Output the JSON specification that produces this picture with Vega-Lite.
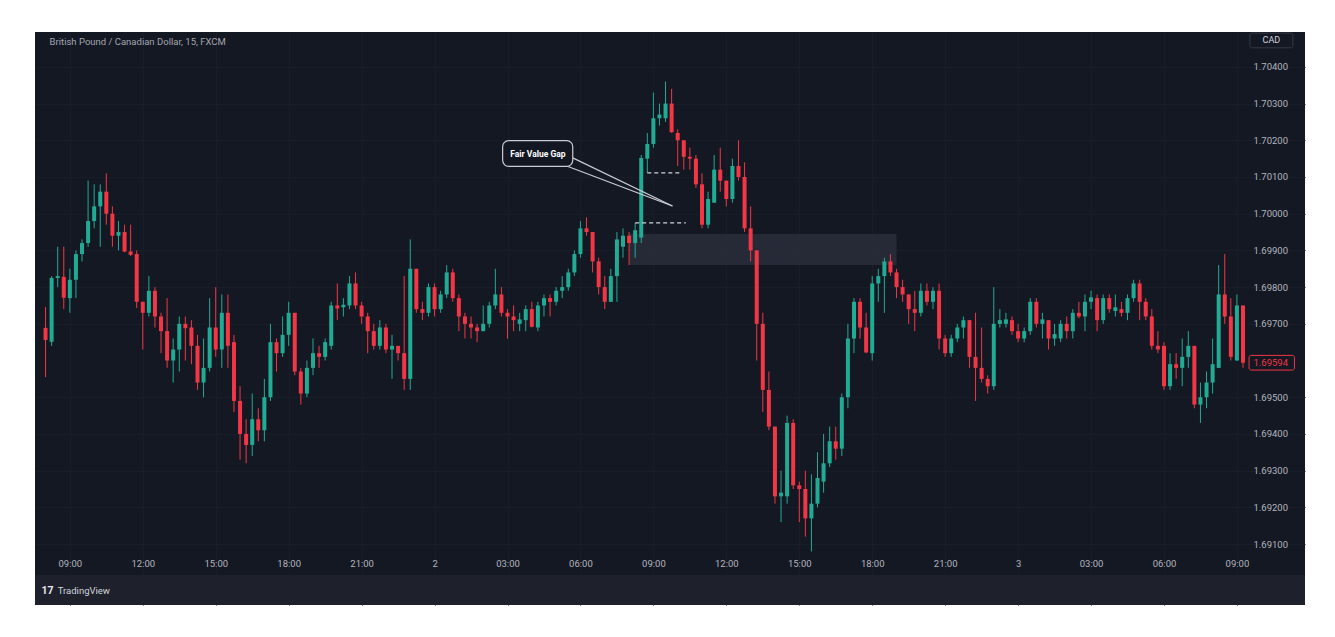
{
  "$schema": "https://vega.github.io/schema/vega-lite/v6.json",
  "width": 1270,
  "height": 573,
  "autosize": {"type": "none"},
  "padding": {"left": 35, "top": 32, "right": 30, "bottom": 32},
  "background": "#ffffff",
  "config": {"view": {"fill": "#141823", "stroke": null}, "font": "Roboto"},
  "datasets": {
    "candles": [
      {"t":"2023-03-01T08:00:00Z","open":1.69689,"high":1.69746,"low":1.69555,"close":1.69656},
      {"t":"2023-03-01T08:15:00Z","open":1.69651,"high":1.69830,"low":1.69640,"close":1.69825},
      {"t":"2023-03-01T08:30:00Z","open":1.69825,"high":1.69910,"low":1.69800,"close":1.69830},
      {"t":"2023-03-01T08:45:00Z","open":1.69828,"high":1.69910,"low":1.69740,"close":1.69771},
      {"t":"2023-03-01T09:00:00Z","open":1.69770,"high":1.69850,"low":1.69730,"close":1.69820},
      {"t":"2023-03-01T09:15:00Z","open":1.69820,"high":1.69900,"low":1.69770,"close":1.69890},
      {"t":"2023-03-01T09:30:00Z","open":1.69890,"high":1.69930,"low":1.69870,"close":1.69920},
      {"t":"2023-03-01T09:45:00Z","open":1.69920,"high":1.70090,"low":1.69910,"close":1.69980},
      {"t":"2023-03-01T10:00:00Z","open":1.69980,"high":1.70080,"low":1.69960,"close":1.70020},
      {"t":"2023-03-01T10:15:00Z","open":1.70020,"high":1.70080,"low":1.69910,"close":1.70060},
      {"t":"2023-03-01T10:30:00Z","open":1.70060,"high":1.70110,"low":1.69970,"close":1.70000},
      {"t":"2023-03-01T10:45:00Z","open":1.70000,"high":1.70020,"low":1.69910,"close":1.69940},
      {"t":"2023-03-01T11:00:00Z","open":1.69940,"high":1.69980,"low":1.69900,"close":1.69950},
      {"t":"2023-03-01T11:15:00Z","open":1.69950,"high":1.69970,"low":1.69895,"close":1.69897},
      {"t":"2023-03-01T11:30:00Z","open":1.69897,"high":1.69970,"low":1.69885,"close":1.69888},
      {"t":"2023-03-01T11:45:00Z","open":1.69890,"high":1.69900,"low":1.69743,"close":1.69760},
      {"t":"2023-03-01T12:00:00Z","open":1.69760,"high":1.69760,"low":1.69630,"close":1.69730},
      {"t":"2023-03-01T12:15:00Z","open":1.69730,"high":1.69830,"low":1.69720,"close":1.69790},
      {"t":"2023-03-01T12:30:00Z","open":1.69790,"high":1.69800,"low":1.69690,"close":1.69720},
      {"t":"2023-03-01T12:45:00Z","open":1.69720,"high":1.69730,"low":1.69620,"close":1.69680},
      {"t":"2023-03-01T13:00:00Z","open":1.69680,"high":1.69770,"low":1.69580,"close":1.69600},
      {"t":"2023-03-01T13:15:00Z","open":1.69600,"high":1.69660,"low":1.69540,"close":1.69630},
      {"t":"2023-03-01T13:30:00Z","open":1.69630,"high":1.69720,"low":1.69570,"close":1.69700},
      {"t":"2023-03-01T13:45:00Z","open":1.69700,"high":1.69720,"low":1.69600,"close":1.69688},
      {"t":"2023-03-01T14:00:00Z","open":1.69690,"high":1.69710,"low":1.69590,"close":1.69640},
      {"t":"2023-03-01T14:15:00Z","open":1.69640,"high":1.69670,"low":1.69520,"close":1.69540},
      {"t":"2023-03-01T14:30:00Z","open":1.69540,"high":1.69660,"low":1.69500,"close":1.69580},
      {"t":"2023-03-01T14:45:00Z","open":1.69580,"high":1.69770,"low":1.69570,"close":1.69690},
      {"t":"2023-03-01T15:00:00Z","open":1.69690,"high":1.69800,"low":1.69610,"close":1.69630},
      {"t":"2023-03-01T15:15:00Z","open":1.69630,"high":1.69780,"low":1.69580,"close":1.69730},
      {"t":"2023-03-01T15:30:00Z","open":1.69730,"high":1.69780,"low":1.69580,"close":1.69640},
      {"t":"2023-03-01T15:45:00Z","open":1.69650,"high":1.69670,"low":1.69460,"close":1.69490},
      {"t":"2023-03-01T16:00:00Z","open":1.69490,"high":1.69530,"low":1.69330,"close":1.69400},
      {"t":"2023-03-01T16:15:00Z","open":1.69400,"high":1.69440,"low":1.69320,"close":1.69370},
      {"t":"2023-03-01T16:30:00Z","open":1.69370,"high":1.69510,"low":1.69340,"close":1.69440},
      {"t":"2023-03-01T16:45:00Z","open":1.69440,"high":1.69470,"low":1.69380,"close":1.69410},
      {"t":"2023-03-01T17:00:00Z","open":1.69410,"high":1.69550,"low":1.69380,"close":1.69500},
      {"t":"2023-03-01T17:15:00Z","open":1.69500,"high":1.69700,"low":1.69490,"close":1.69650},
      {"t":"2023-03-01T17:30:00Z","open":1.69650,"high":1.69660,"low":1.69570,"close":1.69620},
      {"t":"2023-03-01T17:45:00Z","open":1.69620,"high":1.69720,"low":1.69610,"close":1.69670},
      {"t":"2023-03-01T18:00:00Z","open":1.69670,"high":1.69760,"low":1.69640,"close":1.69730},
      {"t":"2023-03-01T18:15:00Z","open":1.69730,"high":1.69730,"low":1.69560,"close":1.69570},
      {"t":"2023-03-01T18:30:00Z","open":1.69570,"high":1.69580,"low":1.69480,"close":1.69510},
      {"t":"2023-03-01T18:45:00Z","open":1.69510,"high":1.69600,"low":1.69500,"close":1.69580},
      {"t":"2023-03-01T19:00:00Z","open":1.69580,"high":1.69660,"low":1.69560,"close":1.69620},
      {"t":"2023-03-01T19:15:00Z","open":1.69620,"high":1.69640,"low":1.69580,"close":1.69610},
      {"t":"2023-03-01T19:30:00Z","open":1.69610,"high":1.69660,"low":1.69600,"close":1.69650},
      {"t":"2023-03-01T19:45:00Z","open":1.69640,"high":1.69760,"low":1.69630,"close":1.69750},
      {"t":"2023-03-01T20:00:00Z","open":1.69750,"high":1.69810,"low":1.69710,"close":1.69742},
      {"t":"2023-03-01T20:15:00Z","open":1.69745,"high":1.69770,"low":1.69720,"close":1.69752},
      {"t":"2023-03-01T20:30:00Z","open":1.69750,"high":1.69830,"low":1.69740,"close":1.69810},
      {"t":"2023-03-01T20:45:00Z","open":1.69810,"high":1.69840,"low":1.69740,"close":1.69750},
      {"t":"2023-03-01T21:00:00Z","open":1.69750,"high":1.69760,"low":1.69700,"close":1.69720},
      {"t":"2023-03-01T21:15:00Z","open":1.69720,"high":1.69730,"low":1.69620,"close":1.69680},
      {"t":"2023-03-01T21:30:00Z","open":1.69680,"high":1.69700,"low":1.69630,"close":1.69640},
      {"t":"2023-03-01T21:45:00Z","open":1.69640,"high":1.69710,"low":1.69630,"close":1.69690},
      {"t":"2023-03-01T22:00:00Z","open":1.69690,"high":1.69700,"low":1.69620,"close":1.69630},
      {"t":"2023-03-01T22:15:00Z","open":1.69630,"high":1.69670,"low":1.69550,"close":1.69640},
      {"t":"2023-03-01T22:30:00Z","open":1.69640,"high":1.69640,"low":1.69600,"close":1.69620},
      {"t":"2023-03-01T22:45:00Z","open":1.69620,"high":1.69830,"low":1.69520,"close":1.69550},
      {"t":"2023-03-01T23:00:00Z","open":1.69550,"high":1.69930,"low":1.69520,"close":1.69850},
      {"t":"2023-03-01T23:15:00Z","open":1.69850,"high":1.69850,"low":1.69730,"close":1.69740},
      {"t":"2023-03-01T23:30:00Z","open":1.69740,"high":1.69760,"low":1.69710,"close":1.69730},
      {"t":"2023-03-01T23:45:00Z","open":1.69730,"high":1.69810,"low":1.69720,"close":1.69800},
      {"t":"2023-03-02T00:00:00Z","open":1.69800,"high":1.69810,"low":1.69720,"close":1.69740},
      {"t":"2023-03-02T00:15:00Z","open":1.69740,"high":1.69790,"low":1.69730,"close":1.69780},
      {"t":"2023-03-02T00:30:00Z","open":1.69780,"high":1.69860,"low":1.69770,"close":1.69840},
      {"t":"2023-03-02T00:45:00Z","open":1.69840,"high":1.69850,"low":1.69760,"close":1.69770},
      {"t":"2023-03-02T01:00:00Z","open":1.69770,"high":1.69780,"low":1.69680,"close":1.69720},
      {"t":"2023-03-02T01:15:00Z","open":1.69720,"high":1.69730,"low":1.69660,"close":1.69700},
      {"t":"2023-03-02T01:30:00Z","open":1.69700,"high":1.69720,"low":1.69660,"close":1.69690},
      {"t":"2023-03-02T01:45:00Z","open":1.69690,"high":1.69700,"low":1.69650,"close":1.69680},
      {"t":"2023-03-02T02:00:00Z","open":1.69680,"high":1.69750,"low":1.69680,"close":1.69700},
      {"t":"2023-03-02T02:15:00Z","open":1.69700,"high":1.69760,"low":1.69690,"close":1.69750},
      {"t":"2023-03-02T02:30:00Z","open":1.69750,"high":1.69850,"low":1.69740,"close":1.69780},
      {"t":"2023-03-02T02:45:00Z","open":1.69780,"high":1.69800,"low":1.69720,"close":1.69730},
      {"t":"2023-03-02T03:00:00Z","open":1.69730,"high":1.69740,"low":1.69660,"close":1.69720},
      {"t":"2023-03-02T03:15:00Z","open":1.69720,"high":1.69750,"low":1.69680,"close":1.69710},
      {"t":"2023-03-02T03:30:00Z","open":1.69700,"high":1.69730,"low":1.69680,"close":1.69712},
      {"t":"2023-03-02T03:45:00Z","open":1.69710,"high":1.69750,"low":1.69680,"close":1.69740},
      {"t":"2023-03-02T04:00:00Z","open":1.69740,"high":1.69760,"low":1.69690,"close":1.69692},
      {"t":"2023-03-02T04:15:00Z","open":1.69690,"high":1.69760,"low":1.69680,"close":1.69750},
      {"t":"2023-03-02T04:30:00Z","open":1.69750,"high":1.69780,"low":1.69720,"close":1.69770},
      {"t":"2023-03-02T04:45:00Z","open":1.69770,"high":1.69780,"low":1.69720,"close":1.69760},
      {"t":"2023-03-02T05:00:00Z","open":1.69760,"high":1.69800,"low":1.69750,"close":1.69790},
      {"t":"2023-03-02T05:15:00Z","open":1.69790,"high":1.69830,"low":1.69770,"close":1.69800},
      {"t":"2023-03-02T05:30:00Z","open":1.69800,"high":1.69850,"low":1.69790,"close":1.69840},
      {"t":"2023-03-02T05:45:00Z","open":1.69840,"high":1.69900,"low":1.69830,"close":1.69890},
      {"t":"2023-03-02T06:00:00Z","open":1.69890,"high":1.69980,"low":1.69880,"close":1.69960},
      {"t":"2023-03-02T06:15:00Z","open":1.69960,"high":1.69990,"low":1.69940,"close":1.69950},
      {"t":"2023-03-02T06:30:00Z","open":1.69950,"high":1.69950,"low":1.69840,"close":1.69870},
      {"t":"2023-03-02T06:45:00Z","open":1.69870,"high":1.69880,"low":1.69780,"close":1.69800},
      {"t":"2023-03-02T07:00:00Z","open":1.69800,"high":1.69830,"low":1.69740,"close":1.69760},
      {"t":"2023-03-02T07:15:00Z","open":1.69760,"high":1.69850,"low":1.69760,"close":1.69830},
      {"t":"2023-03-02T07:30:00Z","open":1.69830,"high":1.69950,"low":1.69760,"close":1.69930},
      {"t":"2023-03-02T07:45:00Z","open":1.69910,"high":1.69960,"low":1.69880,"close":1.69940},
      {"t":"2023-03-02T08:00:00Z","open":1.69940,"high":1.69950,"low":1.69860,"close":1.69920},
      {"t":"2023-03-02T08:15:00Z","open":1.69920,"high":1.69975,"low":1.69880,"close":1.69955},
      {"t":"2023-03-02T08:30:00Z","open":1.69935,"high":1.70160,"low":1.69920,"close":1.70152},
      {"t":"2023-03-02T08:45:00Z","open":1.70150,"high":1.70220,"low":1.70111,"close":1.70190},
      {"t":"2023-03-02T09:00:00Z","open":1.70190,"high":1.70330,"low":1.70180,"close":1.70260},
      {"t":"2023-03-02T09:15:00Z","open":1.70260,"high":1.70300,"low":1.70240,"close":1.70270},
      {"t":"2023-03-02T09:30:00Z","open":1.70260,"high":1.70360,"low":1.70250,"close":1.70300},
      {"t":"2023-03-02T09:45:00Z","open":1.70300,"high":1.70340,"low":1.70220,"close":1.70222},
      {"t":"2023-03-02T10:00:00Z","open":1.70220,"high":1.70230,"low":1.70130,"close":1.70200},
      {"t":"2023-03-02T10:15:00Z","open":1.70200,"high":1.70200,"low":1.70120,"close":1.70155},
      {"t":"2023-03-02T10:30:00Z","open":1.70155,"high":1.70180,"low":1.70120,"close":1.70150},
      {"t":"2023-03-02T10:45:00Z","open":1.70150,"high":1.70160,"low":1.70070,"close":1.70080},
      {"t":"2023-03-02T11:00:00Z","open":1.70080,"high":1.70110,"low":1.69960,"close":1.69970},
      {"t":"2023-03-02T11:15:00Z","open":1.69970,"high":1.70060,"low":1.69960,"close":1.70040},
      {"t":"2023-03-02T11:30:00Z","open":1.70030,"high":1.70160,"low":1.70030,"close":1.70120},
      {"t":"2023-03-02T11:45:00Z","open":1.70120,"high":1.70180,"low":1.70060,"close":1.70090},
      {"t":"2023-03-02T12:00:00Z","open":1.70090,"high":1.70090,"low":1.70020,"close":1.70040},
      {"t":"2023-03-02T12:15:00Z","open":1.70040,"high":1.70150,"low":1.70030,"close":1.70130},
      {"t":"2023-03-02T12:30:00Z","open":1.70130,"high":1.70200,"low":1.70090,"close":1.70100},
      {"t":"2023-03-02T12:45:00Z","open":1.70100,"high":1.70140,"low":1.69950,"close":1.69960},
      {"t":"2023-03-02T13:00:00Z","open":1.69960,"high":1.70020,"low":1.69870,"close":1.69900},
      {"t":"2023-03-02T13:15:00Z","open":1.69900,"high":1.69900,"low":1.69600,"close":1.69700},
      {"t":"2023-03-02T13:30:00Z","open":1.69700,"high":1.69730,"low":1.69460,"close":1.69520},
      {"t":"2023-03-02T13:45:00Z","open":1.69520,"high":1.69570,"low":1.69410,"close":1.69420},
      {"t":"2023-03-02T14:00:00Z","open":1.69420,"high":1.69420,"low":1.69210,"close":1.69230},
      {"t":"2023-03-02T14:15:00Z","open":1.69230,"high":1.69300,"low":1.69160,"close":1.69240},
      {"t":"2023-03-02T14:30:00Z","open":1.69230,"high":1.69450,"low":1.69210,"close":1.69430},
      {"t":"2023-03-02T14:45:00Z","open":1.69430,"high":1.69440,"low":1.69250,"close":1.69260},
      {"t":"2023-03-02T15:00:00Z","open":1.69260,"high":1.69270,"low":1.69160,"close":1.69250},
      {"t":"2023-03-02T15:15:00Z","open":1.69250,"high":1.69300,"low":1.69120,"close":1.69170},
      {"t":"2023-03-02T15:30:00Z","open":1.69170,"high":1.69290,"low":1.69080,"close":1.69210},
      {"t":"2023-03-02T15:45:00Z","open":1.69210,"high":1.69350,"low":1.69200,"close":1.69280},
      {"t":"2023-03-02T16:00:00Z","open":1.69270,"high":1.69400,"low":1.69240,"close":1.69320},
      {"t":"2023-03-02T16:15:00Z","open":1.69320,"high":1.69420,"low":1.69310,"close":1.69380},
      {"t":"2023-03-02T16:30:00Z","open":1.69380,"high":1.69420,"low":1.69330,"close":1.69360},
      {"t":"2023-03-02T16:45:00Z","open":1.69360,"high":1.69510,"low":1.69340,"close":1.69500},
      {"t":"2023-03-02T17:00:00Z","open":1.69500,"high":1.69700,"low":1.69470,"close":1.69660},
      {"t":"2023-03-02T17:15:00Z","open":1.69660,"high":1.69770,"low":1.69620,"close":1.69760},
      {"t":"2023-03-02T17:30:00Z","open":1.69760,"high":1.69770,"low":1.69660,"close":1.69690},
      {"t":"2023-03-02T17:45:00Z","open":1.69690,"high":1.69730,"low":1.69620,"close":1.69622},
      {"t":"2023-03-02T18:00:00Z","open":1.69620,"high":1.69830,"low":1.69600,"close":1.69810},
      {"t":"2023-03-02T18:15:00Z","open":1.69810,"high":1.69850,"low":1.69760,"close":1.69830},
      {"t":"2023-03-02T18:30:00Z","open":1.69830,"high":1.69880,"low":1.69730,"close":1.69870},
      {"t":"2023-03-02T18:45:00Z","open":1.69870,"high":1.69890,"low":1.69830,"close":1.69840},
      {"t":"2023-03-02T19:00:00Z","open":1.69840,"high":1.69850,"low":1.69770,"close":1.69800},
      {"t":"2023-03-02T19:15:00Z","open":1.69800,"high":1.69820,"low":1.69760,"close":1.69780},
      {"t":"2023-03-02T19:30:00Z","open":1.69780,"high":1.69780,"low":1.69700,"close":1.69740},
      {"t":"2023-03-02T19:45:00Z","open":1.69740,"high":1.69790,"low":1.69680,"close":1.69730},
      {"t":"2023-03-02T20:00:00Z","open":1.69730,"high":1.69810,"low":1.69720,"close":1.69790},
      {"t":"2023-03-02T20:15:00Z","open":1.69790,"high":1.69810,"low":1.69750,"close":1.69760},
      {"t":"2023-03-02T20:30:00Z","open":1.69760,"high":1.69800,"low":1.69740,"close":1.69790},
      {"t":"2023-03-02T20:45:00Z","open":1.69790,"high":1.69810,"low":1.69630,"close":1.69660},
      {"t":"2023-03-02T21:00:00Z","open":1.69660,"high":1.69670,"low":1.69610,"close":1.69620},
      {"t":"2023-03-02T21:15:00Z","open":1.69620,"high":1.69670,"low":1.69610,"close":1.69660},
      {"t":"2023-03-02T21:30:00Z","open":1.69660,"high":1.69700,"low":1.69650,"close":1.69690},
      {"t":"2023-03-02T21:45:00Z","open":1.69690,"high":1.69720,"low":1.69660,"close":1.69710},
      {"t":"2023-03-02T22:00:00Z","open":1.69710,"high":1.69710,"low":1.69580,"close":1.69610},
      {"t":"2023-03-02T22:15:00Z","open":1.69610,"high":1.69730,"low":1.69490,"close":1.69580},
      {"t":"2023-03-02T22:30:00Z","open":1.69580,"high":1.69690,"low":1.69540,"close":1.69550},
      {"t":"2023-03-02T22:45:00Z","open":1.69550,"high":1.69560,"low":1.69510,"close":1.69530},
      {"t":"2023-03-02T23:00:00Z","open":1.69530,"high":1.69800,"low":1.69520,"close":1.69700},
      {"t":"2023-03-02T23:15:00Z","open":1.69700,"high":1.69740,"low":1.69690,"close":1.69710},
      {"t":"2023-03-02T23:30:00Z","open":1.69700,"high":1.69730,"low":1.69690,"close":1.69712},
      {"t":"2023-03-02T23:45:00Z","open":1.69710,"high":1.69720,"low":1.69670,"close":1.69680},
      {"t":"2023-03-03T00:00:00Z","open":1.69680,"high":1.69700,"low":1.69650,"close":1.69660},
      {"t":"2023-03-03T00:15:00Z","open":1.69660,"high":1.69690,"low":1.69650,"close":1.69680},
      {"t":"2023-03-03T00:30:00Z","open":1.69680,"high":1.69770,"low":1.69670,"close":1.69760},
      {"t":"2023-03-03T00:45:00Z","open":1.69760,"high":1.69770,"low":1.69690,"close":1.69700},
      {"t":"2023-03-03T01:00:00Z","open":1.69700,"high":1.69730,"low":1.69660,"close":1.69712},
      {"t":"2023-03-03T01:15:00Z","open":1.69710,"high":1.69710,"low":1.69630,"close":1.69660},
      {"t":"2023-03-03T01:30:00Z","open":1.69660,"high":1.69700,"low":1.69640,"close":1.69672},
      {"t":"2023-03-03T01:45:00Z","open":1.69660,"high":1.69710,"low":1.69650,"close":1.69700},
      {"t":"2023-03-03T02:00:00Z","open":1.69700,"high":1.69720,"low":1.69660,"close":1.69680},
      {"t":"2023-03-03T02:15:00Z","open":1.69680,"high":1.69740,"low":1.69660,"close":1.69730},
      {"t":"2023-03-03T02:30:00Z","open":1.69730,"high":1.69760,"low":1.69715,"close":1.69720},
      {"t":"2023-03-03T02:45:00Z","open":1.69720,"high":1.69780,"low":1.69680,"close":1.69760},
      {"t":"2023-03-03T03:00:00Z","open":1.69760,"high":1.69790,"low":1.69740,"close":1.69772},
      {"t":"2023-03-03T03:15:00Z","open":1.69770,"high":1.69780,"low":1.69680,"close":1.69710},
      {"t":"2023-03-03T03:30:00Z","open":1.69710,"high":1.69780,"low":1.69700,"close":1.69770},
      {"t":"2023-03-03T03:45:00Z","open":1.69770,"high":1.69780,"low":1.69730,"close":1.69740},
      {"t":"2023-03-03T04:00:00Z","open":1.69735,"high":1.69780,"low":1.69720,"close":1.69745},
      {"t":"2023-03-03T04:15:00Z","open":1.69740,"high":1.69760,"low":1.69720,"close":1.69730},
      {"t":"2023-03-03T04:30:00Z","open":1.69730,"high":1.69780,"low":1.69710,"close":1.69770},
      {"t":"2023-03-03T04:45:00Z","open":1.69770,"high":1.69820,"low":1.69760,"close":1.69810},
      {"t":"2023-03-03T05:00:00Z","open":1.69810,"high":1.69820,"low":1.69710,"close":1.69760},
      {"t":"2023-03-03T05:15:00Z","open":1.69760,"high":1.69770,"low":1.69710,"close":1.69720},
      {"t":"2023-03-03T05:30:00Z","open":1.69720,"high":1.69740,"low":1.69630,"close":1.69640},
      {"t":"2023-03-03T05:45:00Z","open":1.69640,"high":1.69680,"low":1.69620,"close":1.69630},
      {"t":"2023-03-03T06:00:00Z","open":1.69640,"high":1.69650,"low":1.69520,"close":1.69530},
      {"t":"2023-03-03T06:15:00Z","open":1.69530,"high":1.69620,"low":1.69520,"close":1.69590},
      {"t":"2023-03-03T06:30:00Z","open":1.69590,"high":1.69620,"low":1.69550,"close":1.69580},
      {"t":"2023-03-03T06:45:00Z","open":1.69580,"high":1.69660,"low":1.69530,"close":1.69610},
      {"t":"2023-03-03T07:00:00Z","open":1.69610,"high":1.69680,"low":1.69580,"close":1.69640},
      {"t":"2023-03-03T07:15:00Z","open":1.69640,"high":1.69640,"low":1.69470,"close":1.69480},
      {"t":"2023-03-03T07:30:00Z","open":1.69480,"high":1.69540,"low":1.69430,"close":1.69500},
      {"t":"2023-03-03T07:45:00Z","open":1.69500,"high":1.69570,"low":1.69470,"close":1.69540},
      {"t":"2023-03-03T08:00:00Z","open":1.69540,"high":1.69660,"low":1.69510,"close":1.69590},
      {"t":"2023-03-03T08:15:00Z","open":1.69580,"high":1.69860,"low":1.69580,"close":1.69780},
      {"t":"2023-03-03T08:30:00Z","open":1.69780,"high":1.69890,"low":1.69700,"close":1.69720},
      {"t":"2023-03-03T08:45:00Z","open":1.69720,"high":1.69770,"low":1.69600,"close":1.69610},
      {"t":"2023-03-03T09:00:00Z","open":1.69600,"high":1.69780,"low":1.69600,"close":1.69750},
      {"t":"2023-03-03T09:15:00Z","open":1.69750,"high":1.69750,"low":1.69580,"close":1.69594}
    ]
  },
  "layer": [
    {
      "data": {"values": [{}]},
      "mark": {"type": "rect", "fill": "#1e212c"},
      "encoding": {
        "x": {"datum": 1677656040000, "type": "temporal"},
        "x2": {"datum": 1677844080000},
        "y": {"datum": 1.69016, "type": "quantitative"},
        "y2": {"datum": 1.68934}
      }
    },
    {
      "data": {"values": [{}]},
      "mark": {"type": "rect", "fill": "#2a2f3c", "opacity": 0.8},
      "encoding": {
        "x": {"datum": 1677744000000, "type": "temporal"},
        "x2": {"datum": 1677783600000},
        "y": {"datum": 1.6986, "type": "quantitative"},
        "y2": {"datum": 1.69945}
      }
    },
    {
      "data": {"name": "candles"},
      "mark": {"type": "rule", "strokeWidth": 1},
      "encoding": {
        "x": {
          "field": "t", "type": "temporal",
          "scale": {"type": "utc", "domain": [1677656040000, 1677844080000], "nice": false, "padding": 0},
          "axis": {
            "orient": "bottom", "offset": -50, "title": null,
            "values": [1677661200000, 1677672000000, 1677682800000, 1677693600000, 1677704400000, 1677715200000, 1677726000000, 1677736800000, 1677747600000, 1677758400000, 1677769200000, 1677780000000, 1677790800000, 1677801600000, 1677812400000, 1677823200000, 1677834000000],
            "labelExpr": "utcFormat(datum.value, '%H:%M') == '00:00' ? utcFormat(datum.value, '%-d') : utcFormat(datum.value, '%H:%M')",
            "labelColor": "#b2b5be", "labelFontSize": 9.5, "labelFont": "Roboto", "labelPadding": 3,
            "labelOverlap": false, "labelFlush": false,
            "domain": false, "ticks": false, "grid": true, "gridColor": "#191d28"
          }
        },
        "y": {
          "field": "low", "type": "quantitative",
          "scale": {"domain": [1.68934, 1.70495], "nice": false, "zero": false, "padding": 0},
          "axis": {
            "orient": "right", "offset": -58, "title": null,
            "values": [1.691, 1.692, 1.693, 1.694, 1.695, 1.69594, 1.697, 1.698, 1.699, 1.7, 1.701, 1.702, 1.703, 1.704],
            "format": ".5f",
            "labelColor": {"condition": {"test": "datum.value == 1.69594", "value": "#f23645"}, "value": "#b2b5be"},
            "labelFontSize": 9.5, "labelFont": "Roboto", "labelPadding": 6,
            "domain": false, "ticks": false, "grid": true,
            "gridColor": {"condition": {"test": "datum.value == 1.69594", "value": "rgba(0,0,0,0)"}, "value": "#191d28"}
          }
        },
        "y2": {"field": "high"},
        "color": {"condition": {"test": "datum.close >= datum.open", "value": "#22ab94"}, "value": "#f23645"}
      }
    },
    {
      "data": {"name": "candles"},
      "mark": {"type": "bar", "size": 4},
      "encoding": {
        "x": {"field": "t", "type": "temporal"},
        "y": {"field": "open", "type": "quantitative"},
        "y2": {"field": "close"},
        "color": {"condition": {"test": "datum.close >= datum.open", "value": "#22ab94"}, "value": "#f23645"}
      }
    },
    {
      "data": {"values": [{}]},
      "mark": {"type": "rule", "color": "#d1d4dc", "strokeWidth": 1.3, "strokeDash": [4, 3]},
      "encoding": {
        "x": {"datum": 1677744900000, "type": "temporal"},
        "x2": {"datum": 1677752400000},
        "y": {"datum": 1.69975, "type": "quantitative"}
      }
    },
    {
      "data": {"values": [{}]},
      "mark": {"type": "rule", "color": "#d1d4dc", "strokeWidth": 1.3, "strokeDash": [4, 3]},
      "encoding": {
        "x": {"datum": 1677746700000, "type": "temporal"},
        "x2": {"datum": 1677751800000},
        "y": {"datum": 1.70111, "type": "quantitative"}
      }
    },
    {
      "data": {"values": [{}]},
      "mark": {"type": "rule", "color": "#c9ccd3", "strokeWidth": 1.2},
      "encoding": {
        "x": {"datum": 1677735660000, "type": "temporal"},
        "x2": {"datum": 1677750420000},
        "y": {"datum": 1.70152, "type": "quantitative"},
        "y2": {"datum": 1.70021}
      }
    },
    {
      "data": {"values": [{}]},
      "mark": {"type": "rule", "color": "#c9ccd3", "strokeWidth": 1.2},
      "encoding": {
        "x": {"datum": 1677734760000, "type": "temporal"},
        "x2": {"datum": 1677750420000},
        "y": {"datum": 1.7013, "type": "quantitative"},
        "y2": {"datum": 1.70021}
      }
    },
    {
      "data": {"values": [{}]},
      "mark": {"type": "rect", "fill": "#131722", "stroke": "#c9ccd3", "strokeWidth": 1.2, "cornerRadius": 6},
      "encoding": {
        "x": {"datum": 1677725280000, "type": "temporal"},
        "x2": {"datum": 1677735660000},
        "y": {"datum": 1.70129, "type": "quantitative"},
        "y2": {"datum": 1.70199}
      }
    },
    {
      "data": {"values": [{}]},
      "mark": {"type": "text", "text": "Fair Value Gap", "color": "#ffffff", "fontSize": 8.5, "fontWeight": "bold", "font": "Roboto", "align": "center", "baseline": "middle"},
      "encoding": {
        "x": {"datum": 1677730500000, "type": "temporal"},
        "y": {"datum": 1.70164, "type": "quantitative"}
      }
    },
    {
      "data": {"values": [{}]},
      "mark": {"type": "text", "text": "British Pound / Canadian Dollar, 15, FXCM", "color": "#a3a6af", "fontSize": 9.5, "font": "Roboto", "align": "left", "baseline": "middle"},
      "encoding": {
        "x": {"datum": 1677658200000, "type": "temporal"},
        "y": {"datum": 1.70467, "type": "quantitative"}
      }
    },
    {
      "data": {"values": [{}]},
      "mark": {"type": "rect", "fill": "#141823", "stroke": "#363a45", "strokeWidth": 1, "cornerRadius": 2},
      "encoding": {
        "x": {"datum": 1677835920000, "type": "temporal"},
        "x2": {"datum": 1677842280000},
        "y": {"datum": 1.70452, "type": "quantitative"},
        "y2": {"datum": 1.70492}
      }
    },
    {
      "data": {"values": [{}]},
      "mark": {"type": "text", "text": "CAD", "color": "#d1d4dc", "fontSize": 9, "font": "Roboto", "align": "center", "baseline": "middle"},
      "encoding": {
        "x": {"datum": 1677839100000, "type": "temporal"},
        "y": {"datum": 1.70472, "type": "quantitative"}
      }
    },
    {
      "data": {"values": [{}]},
      "mark": {"type": "rect", "fillOpacity": 0, "stroke": "#f23645", "strokeWidth": 1, "cornerRadius": 2},
      "encoding": {
        "x": {"datum": 1677835800000, "type": "temporal"},
        "x2": {"datum": 1677842520000},
        "y": {"datum": 1.69574, "type": "quantitative"},
        "y2": {"datum": 1.69614}
      }
    },
    {
      "data": {"values": [{}]},
      "mark": {"type": "text", "text": "17", "color": "#e8e9ed", "fontSize": 10.5, "fontWeight": "bold", "font": "Roboto", "align": "left", "baseline": "middle"},
      "encoding": {
        "x": {"datum": 1677657000000, "type": "temporal"},
        "y": {"datum": 1.68972, "type": "quantitative"}
      }
    },
    {
      "data": {"values": [{}]},
      "mark": {"type": "text", "text": "TradingView", "color": "#d1d4dc", "fontSize": 9.5, "font": "Roboto", "align": "left", "baseline": "middle"},
      "encoding": {
        "x": {"datum": 1677659400000, "type": "temporal"},
        "y": {"datum": 1.68972, "type": "quantitative"}
      }
    }
  ]
}
